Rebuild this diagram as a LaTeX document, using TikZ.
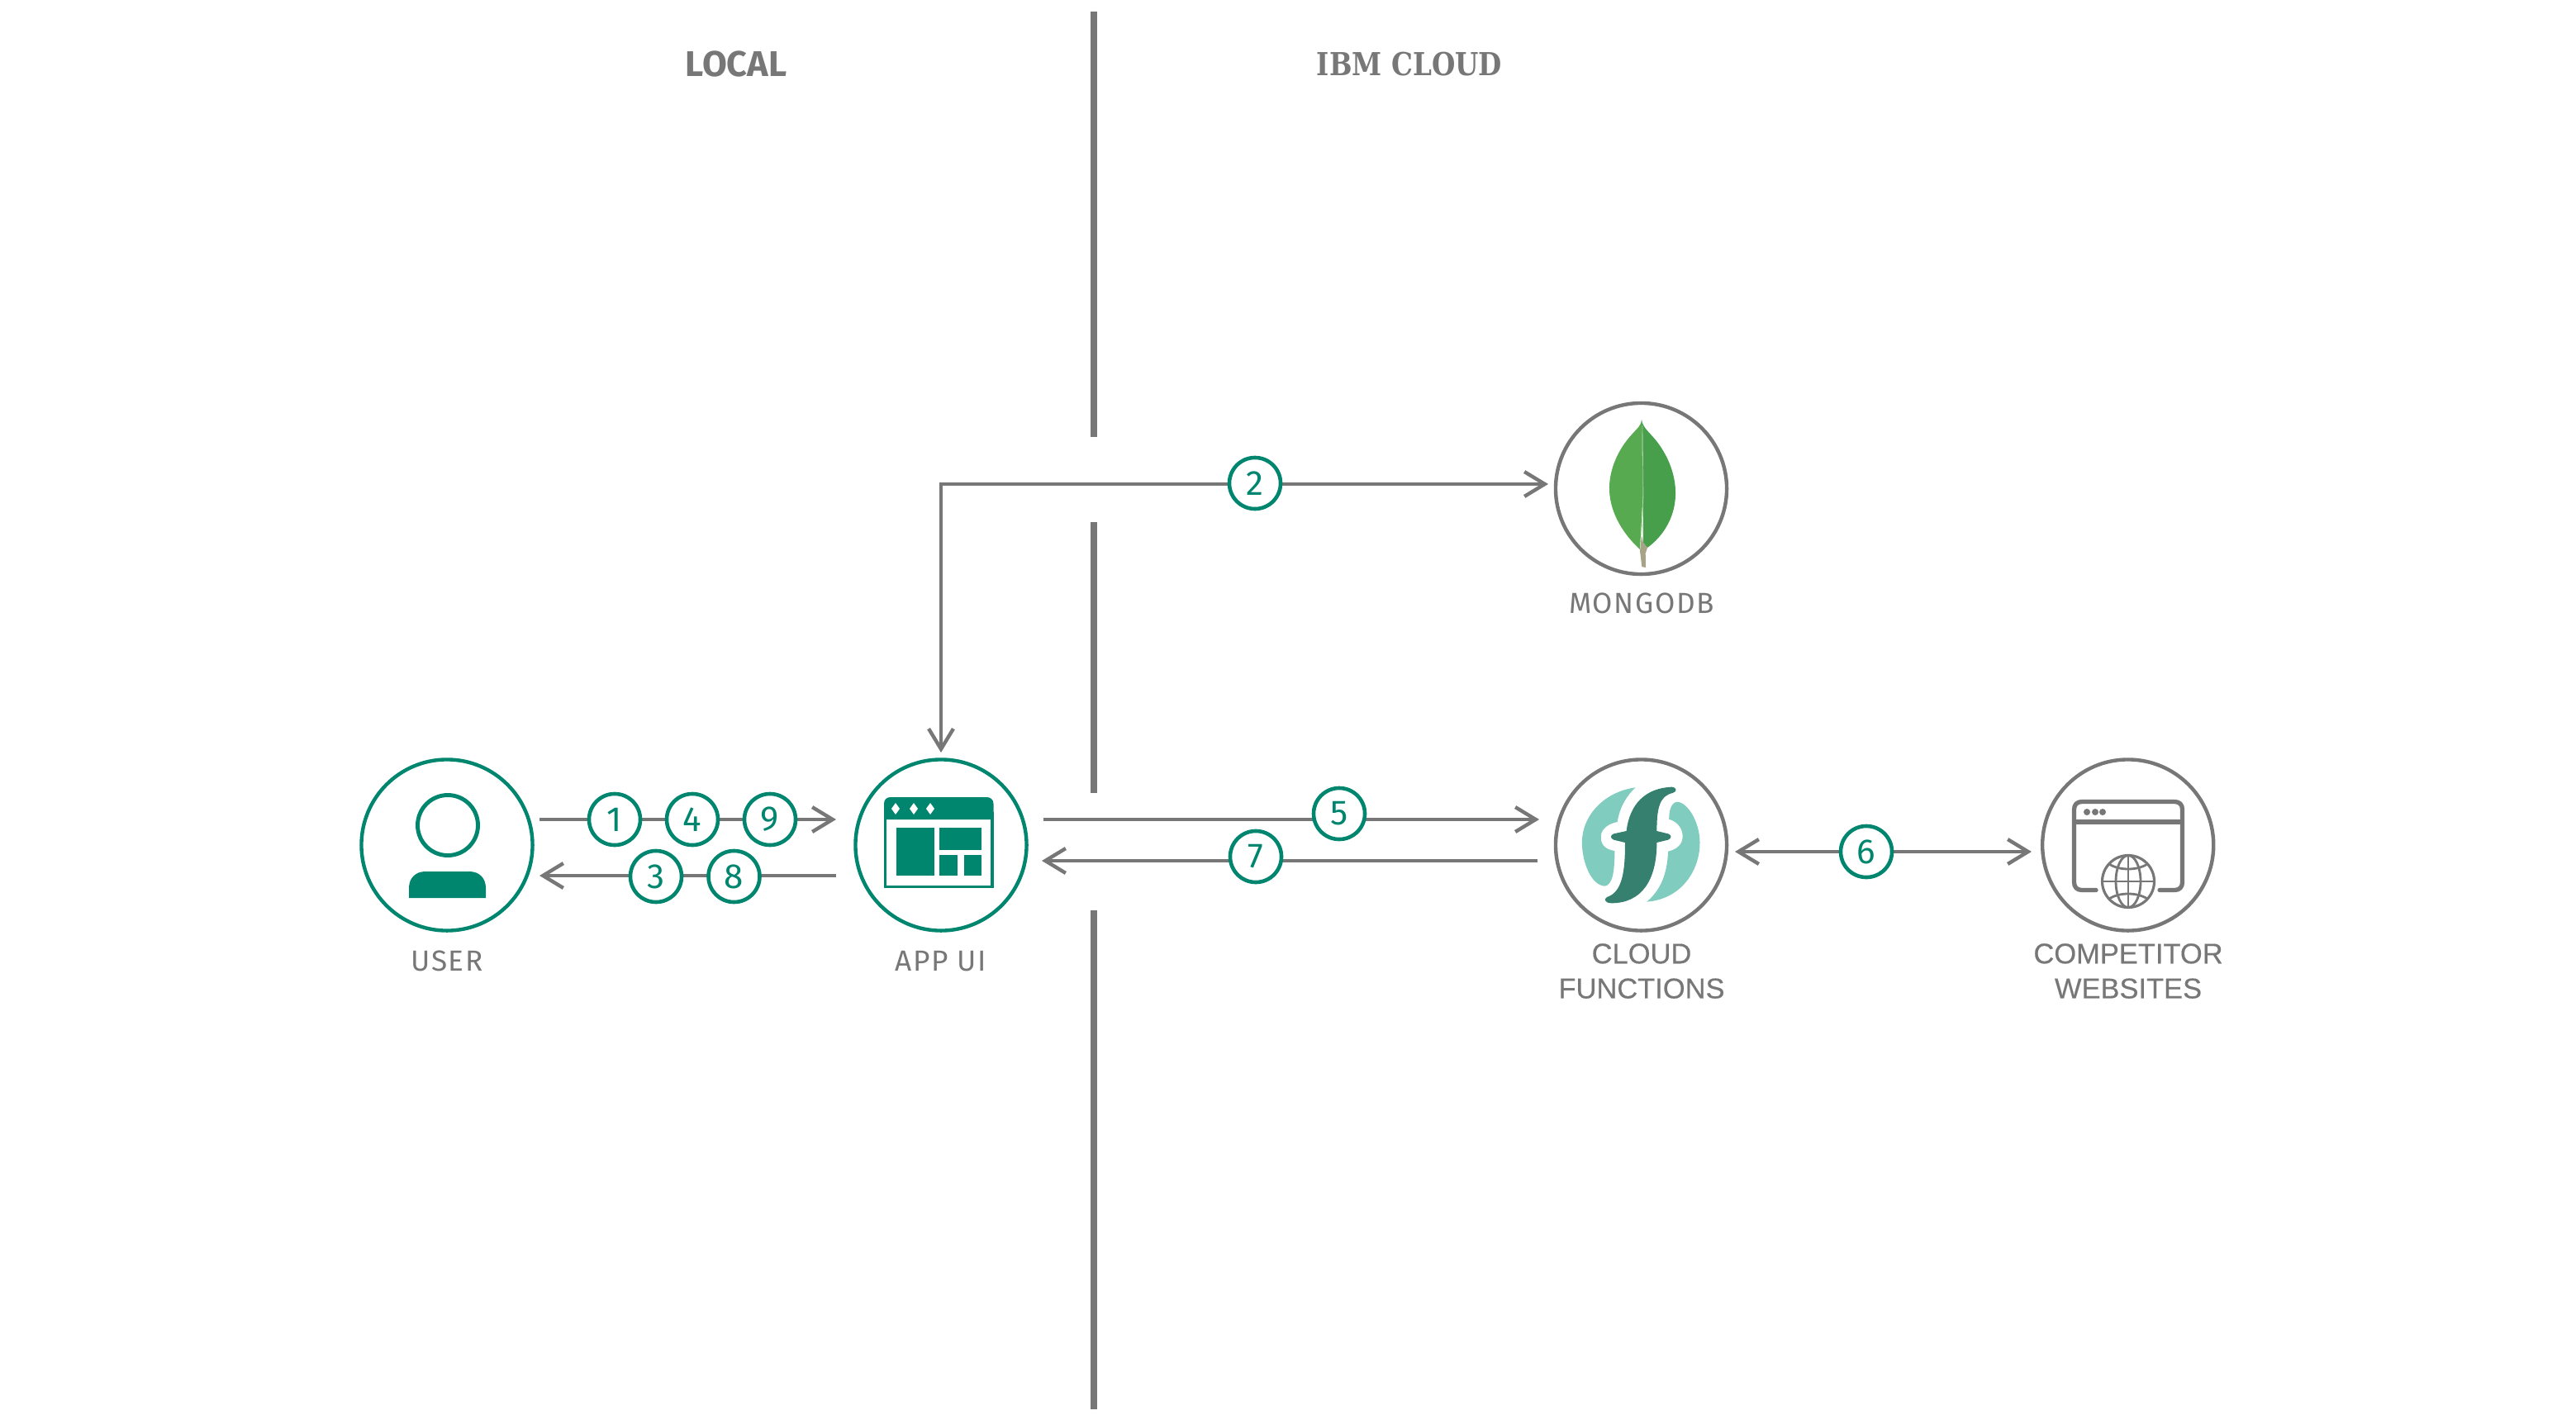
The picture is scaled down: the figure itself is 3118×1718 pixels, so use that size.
\documentclass[tikz,border=0pt]{standalone}
\usepackage{fontspec}
\usetikzlibrary{arrows.meta}
\setmainfont{Fira Sans}
\newfontfamily\capfont[LetterSpace=4.5]{Fira Sans}
\newfontfamily\tightfont[FakeBold=0.35]{Liberation Sans}
\newfontfamily\slabfont[FakeStretch=0.85]{DejaVu Serif}
\definecolor{teal}{HTML}{00856F}
\definecolor{graytone}{HTML}{777777}
\definecolor{fdark}{HTML}{35806F}
\definecolor{flight}{HTML}{80CCBE}
\definecolor{leafl}{HTML}{58AA50}
\definecolor{leafr}{HTML}{479F4C}
\definecolor{leafs}{HTML}{A6A387}
\definecolor{leafrib}{HTML}{A9CF9F}
\tikzset{
  divider/.style={draw=graytone, line width=2.3pt},
  flow/.style={draw=graytone, line width=1.25pt, {Straight Barb[length=7pt,width=8.5pt]}-{Straight Barb[length=7pt,width=8.5pt]}},
  flowto/.style={draw=graytone, line width=1.25pt, -{Straight Barb[length=7pt,width=8.5pt]}},
  badge/.style={circle, draw=teal, fill=white, line width=1.3pt, minimum size=0.62cm, inner sep=0pt, text=teal, font=\fontsize{12}{12}\selectfont},
  tealring/.style={circle, draw=teal, line width=1.25pt, minimum size=2.07cm, inner sep=0pt},
  grayring/.style={circle, draw=graytone, line width=1.25pt, minimum size=2.07cm, inner sep=0pt},
  caption/.style={text=graytone, inner sep=0pt, anchor=base, font=\capfont\fontsize{10}{12}\selectfont},
  twoline/.style={text=graytone, inner sep=0pt, align=center, font=\tightfont\fontsize{9.8}{12}\selectfont},
  heading/.style={text=graytone, inner sep=0pt, anchor=base}
}
\begin{document}
\begin{tikzpicture}[x=0.01cm, y=-0.01cm]
  \useasboundingbox (0,0) rectangle (3118,1718);

  % Divider and headings
  \draw[divider] (1324,14) -- (1324,529);
  \draw[divider] (1324,632) -- (1324,960);
  \draw[divider] (1324,1102) -- (1324,1706);
  \node[heading, font=\bfseries\fontsize{12.3}{12}\selectfont] (local) at (891,92) {LOCAL};
  \node[heading, font=\slabfont\bfseries\fontsize{10.9}{12}\selectfont] (ibmcloud) at (1706,91) {IBM CLOUD};

  % Circles
  \node[tealring] (user) at (541,1023) {};
  \node[tealring] (appui) at (1139,1023) {};
  \node[grayring] (mongodb) at (1986.5,591.5) {};
  \node[grayring] (cloudfn) at (1986.5,1023) {};
  \node[grayring] (sites) at (2575.7,1023) {};

  % Captions
  \node[caption] (userlabel) at (541,1175) {USER};
  \node[caption] (applabel) at (1139,1175) {APP UI};
  \node[caption] (mongolabel) at (1987,742) {MONGODB};
  \node[twoline] (cloudlabel) at (1987,1175.5) {CLOUD\\FUNCTIONS};
  \node[twoline] (siteslabel) at (2576,1175.5) {COMPETITOR\\WEBSITES};

  % Connector ends
  \coordinate (userout) at (653,992);
  \coordinate (appin) at (1012,992);
  \coordinate (appout) at (1012,1060);
  \coordinate (userin) at (653,1060);
  \coordinate (apptop) at (1139,911);
  \coordinate (mongoin) at (1874,586);
  \coordinate (appright) at (1263,992);
  \coordinate (cloudin) at (1863,992);
  \coordinate (cloudout) at (1861,1042);
  \coordinate (appback) at (1261,1042);
  \coordinate (cloudright) at (2100,1031);
  \coordinate (sitesin) at (2459,1031);

  % Connectors
  \draw[flowto] (userout) -- (appin);
  \draw[flowto] (appout) -- (userin);
  \draw[flow] (apptop) |- (mongoin);
  \draw[flowto] (appright) -- (cloudin);
  \draw[flowto] (cloudout) -- (appback);
  \draw[flow] (cloudright) -- (sitesin);

  % Numbers
  \node[badge] (one) at (744,992) {1};
  \node[badge] (four) at (838,992) {4};
  \node[badge] (nine) at (932,992) {9};
  \node[badge] (three) at (794,1061) {3};
  \node[badge] (eight) at (888.5,1061) {8};
  \node[badge] (two) at (1519,585) {2};
  \node[badge] (five) at (1621,985) {5};
  \node[badge] (seven) at (1520,1037) {7};
  \node[badge] (six) at (2259,1031) {6};

  % User icon
  \draw[teal, line width=1.4pt] (542,999) circle (36.5);
  \fill[teal] (495,1087) -- (495,1075) .. controls (495,1063) and (503,1055) .. (515,1055) -- (568,1055) .. controls (580,1055) and (588,1063) .. (588,1075) -- (588,1087) -- cycle;

  % App icon
  \draw[teal, line width=0.9pt] (1071.5,985) rectangle (1201,1073.5);
  \fill[teal] (1070,992) -- (1070,973) .. controls (1070,968) and (1073,965) .. (1078,965) -- (1194,965) .. controls (1199,965) and (1202.5,968) .. (1202.5,973) -- (1202.5,992) -- cycle;
  \fill[teal] (1085,1002) rectangle (1131,1060);
  \fill[teal] (1136.5,1002) rectangle (1188,1029);
  \fill[teal] (1136.5,1035) rectangle (1159,1060);
  \fill[teal] (1167,1035) rectangle (1188,1060);
  \foreach \dotx in {1084,1106,1126}
    \fill[white] (\dotx,972) -- (\dotx+5,979) -- (\dotx,986) -- (\dotx-5,979) -- cycle;

  % Leaf icon
  \fill[leafl] (1987,508) .. controls (1986,516) and (1982,518) .. (1976,525) .. controls (1958,544) and (1947,570) .. (1948,594) .. controls (1949,622) and (1966,648) .. (1985,665) -- (1988.5,600) -- cycle;
  \fill[leafr] (1987,508) .. controls (1988,516) and (1993,520) .. (1999,527) .. controls (2016,545) and (2029,572) .. (2028,600) .. controls (2027,628) and (2012,650) .. (1994,663) -- (1989,657) -- (1988.5,600) -- cycle;
  \draw[leafrib, line width=0.2pt] (1988,515) -- (1989,600) -- (1987,648);
  \fill[leafs] (1987,648) -- (1985,667) -- (1987.3,686) -- (1992,687) -- (1991.7,670) -- (1994,663) -- (1989,657) -- cycle;

  % Functions icon
  \begin{scope}[shift={(1860,880)}, xscale=0.5486, yscale=0.3333]
    \fill[flight] (218,220) .. controls (150,235) and (100,320) .. (100,420) .. controls (100,490) and (120,575) .. (150,578) .. controls (168,575) and (172,520) .. (172,450) .. controls (150,445) and (140,425) .. (142,395) .. controls (142,370) and (160,350) .. (178,345) .. controls (182,300) and (195,255) .. (218,220) -- cycle;
    \fill[flight] (310,272) .. controls (295,275) and (292,310) .. (292,335) .. controls (312,345) and (322,370) .. (322,398) .. controls (322,425) and (310,445) .. (290,452) .. controls (288,530) and (275,590) .. (243,635) .. controls (320,625) and (360,520) .. (360,420) .. controls (360,350) and (335,275) .. (310,272) -- cycle;
    \fill[fdark] (298,218) .. controls (240,222) and (205,280) .. (198,378) -- (170,388) .. controls (162,392) and (162,405) .. (170,410) -- (195,420) .. controls (195,520) and (190,600) .. (155,618) .. controls (148,625) and (150,640) .. (165,640) .. controls (230,640) and (265,560) .. (265,420) -- (290,410) .. controls (298,405) and (298,392) .. (290,388) -- (265,378) .. controls (265,300) and (270,250) .. (300,240) .. controls (310,235) and (310,220) .. (298,218) -- cycle;
  \end{scope}

  % Website icon
  \draw[graytone, line width=1.5pt, line cap=round] (2537,1077.5) -- (2520,1077.5) .. controls (2514,1077.5) and (2510.5,1074) .. (2510.5,1068) -- (2510.5,980) .. controls (2510.5,974) and (2514,970.5) .. (2520,970.5) -- (2632,970.5) .. controls (2638,970.5) and (2641.5,974) .. (2641.5,980) -- (2641.5,1068) .. controls (2641.5,1074) and (2638,1077.5) .. (2632,1077.5) -- (2614,1077.5);
  \draw[graytone, line width=1.5pt] (2510.5,995) -- (2641.5,995);
  \foreach \dotx in {2526,2536,2545}
    \fill[graytone] (\dotx,983) circle (4);
  \draw[graytone, line width=0.9pt, fill=white] (2576,1067) circle (31.5);
  \draw[graytone, line width=0.8pt] (2576,1067) ellipse (15 and 31.5);
  \draw[graytone, line width=0.8pt] (2576,1035.5) -- (2576,1098.5);
  \draw[graytone, line width=0.8pt] (2544.5,1067) -- (2607.5,1067);
  \draw[graytone, line width=0.8pt] (2553,1046) .. controls (2565,1054) and (2587,1054) .. (2599,1046);
  \draw[graytone, line width=0.8pt] (2553,1088) .. controls (2565,1080) and (2587,1080) .. (2599,1088);
\end{tikzpicture}
\end{document}
